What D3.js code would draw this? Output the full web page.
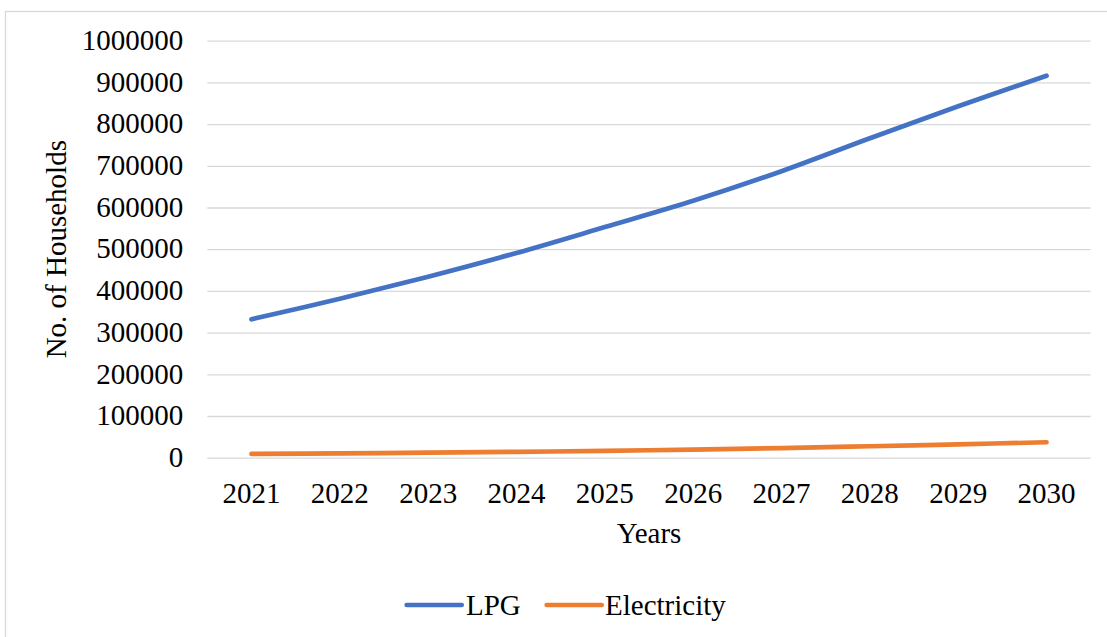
<!DOCTYPE html>
<html>
<head>
<meta charset="utf-8">
<script src="https://cdn.jsdelivr.net/npm/d3@7"></script>
<style>
  html, body { margin: 0; padding: 0; background: #ffffff; }
  svg { display: block; }
  svg text { font-family: "Liberation Serif", "Times New Roman", serif; fill: #000; }
</style>
</head>
<body>
<svg id="chart" width="1107" height="637"></svg>
<script>
// Projected number of households by cooking fuel, 2021–2030
const years = ["2021", "2022", "2023", "2024", "2025", "2026", "2027", "2028", "2029", "2030"];
const lpgValues = [332000, 381000, 434000, 491000, 553000, 616000, 687000, 766000, 843000, 916000];
const electricityValues = [9000, 10500, 12000, 14000, 16500, 19500, 23000, 27500, 32000, 37000];
const yTicks = [0, 100000, 200000, 300000, 400000, 500000, 600000, 700000, 800000, 900000, 1000000];
const seriesNames = ["LPG", "Electricity"];
const seriesColors = ["#4472C4", "#ED7D31"];

const serif = "'Liberation Serif', 'Times New Roman', serif";
const fontSize = 29;
const svg = d3.select("#chart");

// outer chart frame
svg.append("rect")
  .attr("x", 5.5).attr("y", 11.5)
  .attr("width", 1200).attr("height", 700)
  .attr("fill", "#fff")
  .attr("stroke", "#d9d9d9")
  .attr("stroke-width", 1.3);

const plot = { left: 207.3, right: 1090.7, top: 40.7, bottom: 457.7 };

const x = d3.scaleBand().domain(years).range([plot.left, plot.right]).paddingInner(0).paddingOuter(0);
const xc = d => x(d) + x.bandwidth() / 2;
const y = d3.scaleLinear().domain([0, 1000000]).range([plot.bottom, plot.top]);

// horizontal gridlines + value labels
const yAxis = svg.append("g")
  .attr("transform", `translate(${plot.left},0)`)
  .call(d3.axisLeft(y).tickValues(yTicks).tickFormat(d3.format("d"))
    .tickSize(-(plot.right - plot.left)).tickPadding(24));
yAxis.attr("font-family", null).attr("font-size", null);
yAxis.select(".domain").remove();
yAxis.selectAll(".tick line").attr("stroke", "#d9d9d9").attr("stroke-width", 1.3);
yAxis.selectAll(".tick text")
  .style("font-family", serif)
  .style("font-size", fontSize + "px")
  .attr("fill", "#000")
  .attr("dy", "0.3em");

// category axis
const xAxis = svg.append("g")
  .attr("transform", `translate(0,${plot.bottom})`)
  .call(d3.axisBottom(x).tickSize(0).tickPadding(0));
xAxis.attr("font-family", null).attr("font-size", null);
xAxis.select(".domain").remove();
xAxis.selectAll(".tick text")
  .style("font-family", serif)
  .style("font-size", fontSize + "px")
  .attr("fill", "#000")
  .attr("dy", null)
  .attr("y", 503 - plot.bottom);

// axis titles
svg.append("text")
  .attr("x", (plot.left + plot.right) / 2).attr("y", 543)
  .attr("text-anchor", "middle")
  .style("font-family", serif)
  .style("font-size", fontSize + "px")
  .text("Years");

svg.append("text")
  .attr("transform", `translate(66,${(plot.top + plot.bottom) / 2}) rotate(-90)`)
  .attr("text-anchor", "middle")
  .style("font-family", serif)
  .style("font-size", fontSize + "px")
  .text("No. of Households");

// series lines
const line = d3.line()
  .x((d, i) => xc(years[i]))
  .y(d => y(d))
  .curve(d3.curveCatmullRom.alpha(0.5));

[lpgValues, electricityValues].forEach((vals, k) => {
  svg.append("path")
    .datum(vals)
    .attr("d", line)
    .attr("fill", "none")
    .attr("stroke", seriesColors[k])
    .attr("stroke-width", 4.7)
    .attr("stroke-linecap", "round")
    .attr("stroke-linejoin", "round");
});

// legend
const legendItems = [
  { x0: 406.7, tx: 466 },
  { x0: 546.7, tx: 605 }
];
const legend = svg.append("g");
seriesNames.forEach((name, k) => {
  const it = legendItems[k];
  legend.append("line")
    .attr("x1", it.x0).attr("x2", it.x0 + 55)
    .attr("y1", 605).attr("y2", 605)
    .attr("stroke", seriesColors[k])
    .attr("stroke-width", 4.7)
    .attr("stroke-linecap", "round");
  legend.append("text")
    .attr("x", it.tx).attr("y", 615)
    .style("font-family", serif)
    .style("font-size", fontSize + "px")
    .text(name);
});
</script>
</body>
</html>
